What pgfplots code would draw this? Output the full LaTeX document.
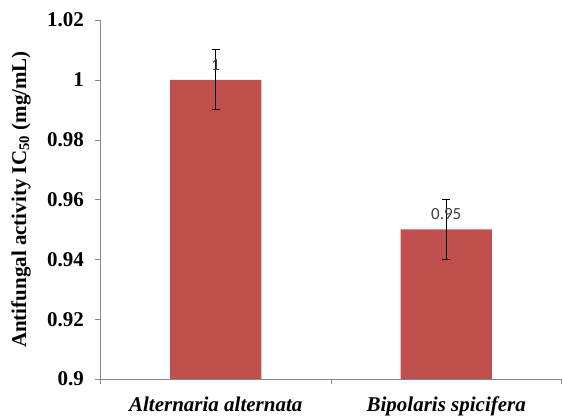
\documentclass[border=0pt]{standalone}
\usepackage{fontspec}
\setmainfont{Liberation Serif}[
  BoldFont={Liberation Serif Bold},
  ItalicFont={Liberation Serif Italic},
  BoldItalicFont={Liberation Serif Bold Italic}]
\newfontfamily\calibri{Carlito}
\usepackage{pgfplots}
\pgfplotsset{compat=1.18}
\definecolor{barred}{HTML}{C0504D}
\definecolor{axisgray}{HTML}{868686}
\definecolor{lblgray}{HTML}{404040}

\begin{document}
\begin{tikzpicture}
\begin{axis}[
  scale only axis,
  width=461bp, height=359bp,
  ybar,
  xmin=-0.5, xmax=1.5,
  ymin=0.9, ymax=1.02,
  ytick={0.9,0.92,0.94,0.96,0.98,1,1.02},
  xtick={0,1},
  xticklabels={Alternaria alternata, Bipolaris spicifera},
  minor xtick={-0.5,0.5,1.5},
  axis x line*=bottom, axis y line*=left,
  axis line style={-, draw=axisgray},
  tick style={axisgray},
  major x tick style={draw=none},
  tick align=outside,
  major tick length=5bp, minor tick length=5bp,
  /pgf/number format/assume math mode=true,
  /pgf/number format/fixed, /pgf/number format/precision=2,
  yticklabel style={font=\fontsize{21bp}{25bp}\selectfont\bfseries, xshift=-8bp},
  xticklabel style={font=\fontsize{21bp}{25bp}\selectfont\bfseries\itshape, yshift=-9bp},
  ylabel={Antifungal activity IC\textsubscript{50} (mg/mL)},
  ylabel style={font=\fontsize{21bp}{25bp}\selectfont\bfseries,
    at={(axis description cs:-0.1725,0.5)}, anchor=center},
  nodes near coords,
  nodes near coords style={font=\calibri\fontsize{17bp}{20bp}\selectfont,
    text=lblgray, anchor=south, yshift=6bp},
]
\addplot[fill=barred, draw=none, bar width=0.395,
  error bars/.cd, y dir=both, y explicit,
  error bar style={black, line width=1.1bp},
  error mark options={black, rotate=90, mark size=4bp, line width=1.1bp}]
  coordinates {(0,1) +- (0,0.01) (1,0.95) +- (0,0.01)};
\end{axis}
\pgfresetboundingbox
\path ([shift={(-100.5bp,-37bp)}]current axis.south west)
  rectangle ([shift={(0.5bp,20bp)}]current axis.north east);
\end{tikzpicture}
\end{document}
